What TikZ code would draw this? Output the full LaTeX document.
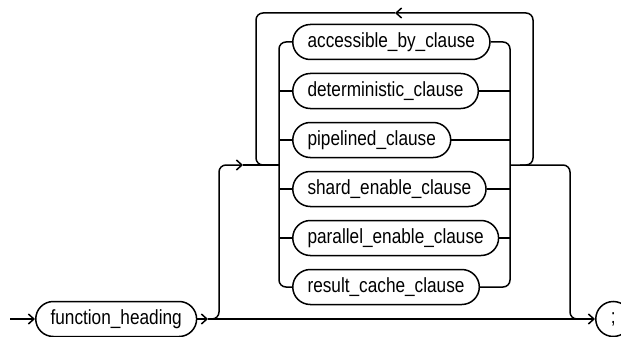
\documentclass[tikz,border=0pt]{standalone}
\usepackage{fontspec}
\setmainfont{Liberation Sans}[FakeStretch=0.84]
\usetikzlibrary{arrows.meta,shapes.misc}
\tikzset{
  rail/.style={line width=1.5pt,rounded corners=7pt,line join=round},
  railarr/.style={rail,-{Straight Barb[length=5.5pt,width=10pt,line width=1.5pt]}},
  clause/.style={rounded rectangle,draw,line width=1.5pt,
    minimum height=35pt,inner xsep=12pt,anchor=west,
    font=\fontsize{20.5}{22}\selectfont},
  term/.style={clause,minimum width=32pt,inner xsep=4pt},
}
\begin{document}
\begin{tikzpicture}[x=1pt,y=-1pt]
  \useasboundingbox (0,0) rectangle (621,337);

  % main track
  \coordinate (start) at (10,319);
  \node[clause] (fh) at (35,319) {function\_heading};
  \node[term] (semi) at (595,319) {;};
  \coordinate (split) at (208,319);

  % options, one under the other
  \node[clause] (acc) at (292,42)  {accessible\_by\_clause};
  \node[clause] (det) at (292,91)  {deterministic\_clause};
  \node[clause] (pip) at (292,140) {pipelined\_clause};
  \node[clause] (shd) at (292,189) {shard\_enable\_clause};
  \node[clause] (par) at (292,238) {parallel\_enable\_clause};
  \node[clause] (res) at (292,287) {result\_cache\_clause};

  \coordinate (lv) at (279,165);
  \coordinate (rv) at (510,165);
  \coordinate (upin) at (243,165);
  \coordinate (back) at (395,13);

  % entry and bypass
  \draw[railarr] (start) -- (fh.west);
  \draw[railarr] (fh.east) -- (split);
  \draw[railarr] (split) -- (semi.west);

  % up into the choice
  \draw[railarr] (split) -- (219,319) |- (upin);
  \draw[rail] (upin) -- (lv);

  % choice rails
  \draw[rail] (acc.west) -| (lv) |- (res.west);
  \draw[rail] (acc.east) -| (rv) |- (res.east);
  \foreach \opt in {det,pip,shd,par}{
    \draw[rail] (\opt.west) -- (\opt.west -| lv);
    \draw[rail] (\opt.east) -- (\opt.east -| rv);
  }

  % repeat loop
  \draw[railarr] (520,165) -| (533,13) -- (back);
  \draw[rail] (back) -| (256,165) -- (268,165);

  % out to the terminator
  \draw[rail] (rv) -| (570,319) -- (585,319);
\end{tikzpicture}
\end{document}
